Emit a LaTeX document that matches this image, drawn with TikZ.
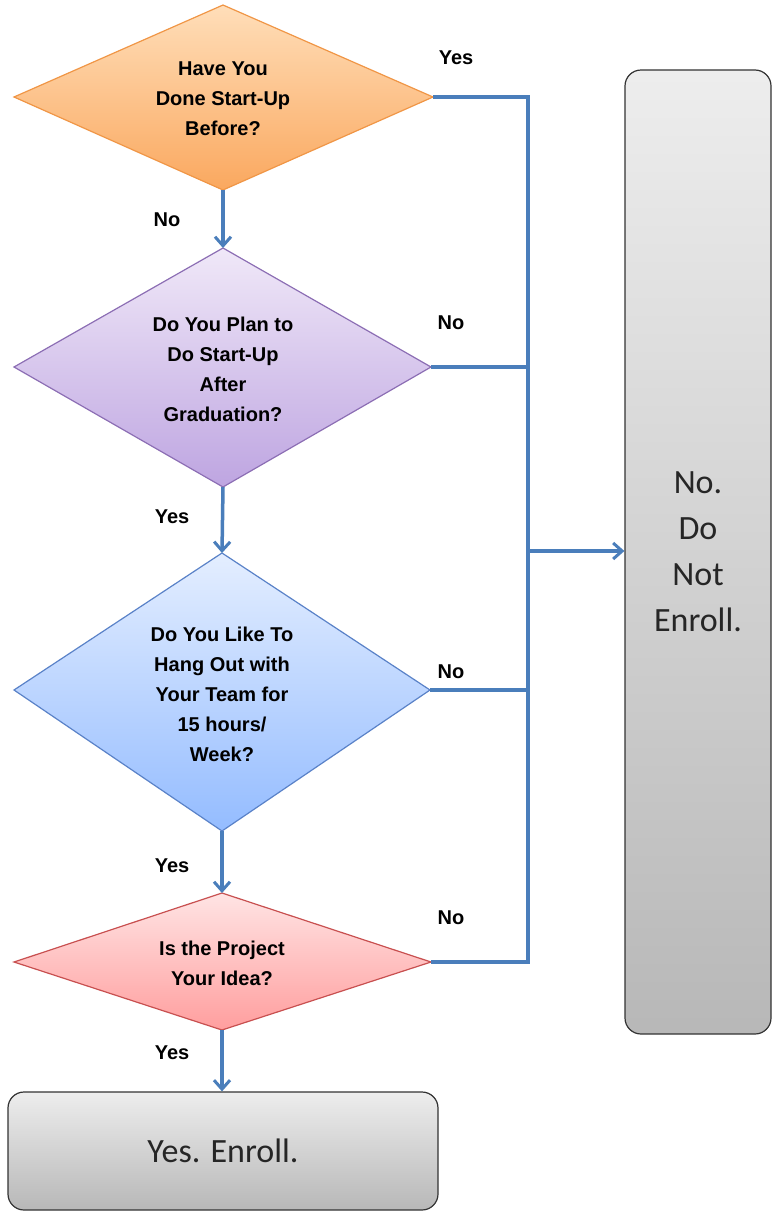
\documentclass[tikz,border=0pt]{standalone}
\usepackage{fontspec}
\setmainfont{Liberation Sans}
\newfontfamily\carl{Carlito}
\usetikzlibrary{arrows.meta}
\definecolor{ln}{RGB}{74,126,187}
\tikzset{
 dlab/.style={font=\bfseries\fontsize{20}{30}\selectfont,align=center},
 lab/.style={font=\bfseries\fontsize{20}{24}\selectfont},
 conn/.style={draw=ln,line width=3.5pt},
 arr/.style={conn,-{Straight Barb[length=9pt,width=16pt,line width=3pt]}},
 box/.style={draw=black!80,line width=1.2pt,rounded corners=16pt,top color=black!7,bottom color=black!28}
}
\begin{document}
\begin{tikzpicture}[x=1pt,y=-1pt]
\useasboundingbox (0,0) rectangle (779,1221);
% diamonds
\path[draw={rgb,255:red,240;green,150;blue,70},line width=1.2pt,top color={rgb,255:red,255;green,222;blue,185},bottom color={rgb,255:red,250;green,168;blue,95}] (14,97)--(223,5)--(433,97)--(223,190)--cycle;
\node[dlab] (d1) at (223,99) {Have You\\Done Start-Up\\Before?};
\coordinate (d1r) at (433,97); \coordinate (d1b) at (223,190);
\path[draw={rgb,255:red,140;green,110;blue,180},line width=1.2pt,top color={rgb,255:red,240;green,232;blue,248},bottom color={rgb,255:red,190;green,165;blue,225}] (14,367)--(223,248)--(431,367)--(223,487)--cycle;
\node[dlab] (d2) at (223,369) {Do You Plan to\\Do Start-Up\\After\\Graduation?};
\coordinate (d2t) at (223,248); \coordinate (d2r) at (431,367); \coordinate (d2b) at (223,487);
\path[draw={rgb,255:red,90;green,130;blue,200},line width=1.2pt,top color={rgb,255:red,228;green,238;blue,255},bottom color={rgb,255:red,148;green,188;blue,255}] (14,690)--(222,553)--(430,690)--(222,831)--cycle;
\node[dlab] (d3) at (222,694) {Do You Like To\\Hang Out with\\Your Team for\\15 hours/\\Week?};
\coordinate (d3t) at (222,553); \coordinate (d3r) at (430,690); \coordinate (d3b) at (222,831);
\path[draw={rgb,255:red,200;green,80;blue,80},line width=1.2pt,top color={rgb,255:red,255;green,228;blue,228},bottom color={rgb,255:red,255;green,158;blue,158}] (14,962)--(222,893)--(431,962)--(222,1030)--cycle;
\node[dlab] (d4) at (222,963) {Is the Project\\Your Idea?};
\coordinate (d4t) at (222,893); \coordinate (d4r) at (431,962); \coordinate (d4b) at (222,1030);
% boxes
\node[box,minimum width=146pt,minimum height=964pt,font=\carl\fontsize{34}{46}\selectfont,align=center,text=black!85] (no) at (698,552) {No.\\Do\\Not\\Enroll.};
\node[box,minimum width=430pt,minimum height=118pt,font=\carl\fontsize{34}{40}\selectfont,text=black!85] (yes) at (223,1151) {Yes. Enroll.};
% connectors
\coordinate (j1) at (528,97); \coordinate (j4) at (528,962); \coordinate (jm) at (528,551);
\draw[conn] (d1r)--(j1)--(j4)--(d4r);
\draw[conn] (d2r)--(528,367);
\draw[conn] (d3r)--(528,690);
\draw[arr] (jm)--(no.west|-jm);
\draw[arr] (d1b)--(d2t);
\draw[arr] (d2b)--(d3t);
\draw[arr] (d3b)--(d4t);
\draw[arr] (d4b)--(yes.north-|d4b);
% labels
\node[lab] (l1) at (456,58) {Yes};
\node[lab] (l2) at (451,323) {No};
\node[lab] (l3) at (451,672) {No};
\node[lab] (l4) at (451,918) {No};
\node[lab] (l5) at (167,220) {No};
\node[lab] (l6) at (172,517) {Yes};
\node[lab] (l7) at (172,866) {Yes};
\node[lab] (l8) at (172,1053) {Yes};
\end{tikzpicture}
\end{document}
